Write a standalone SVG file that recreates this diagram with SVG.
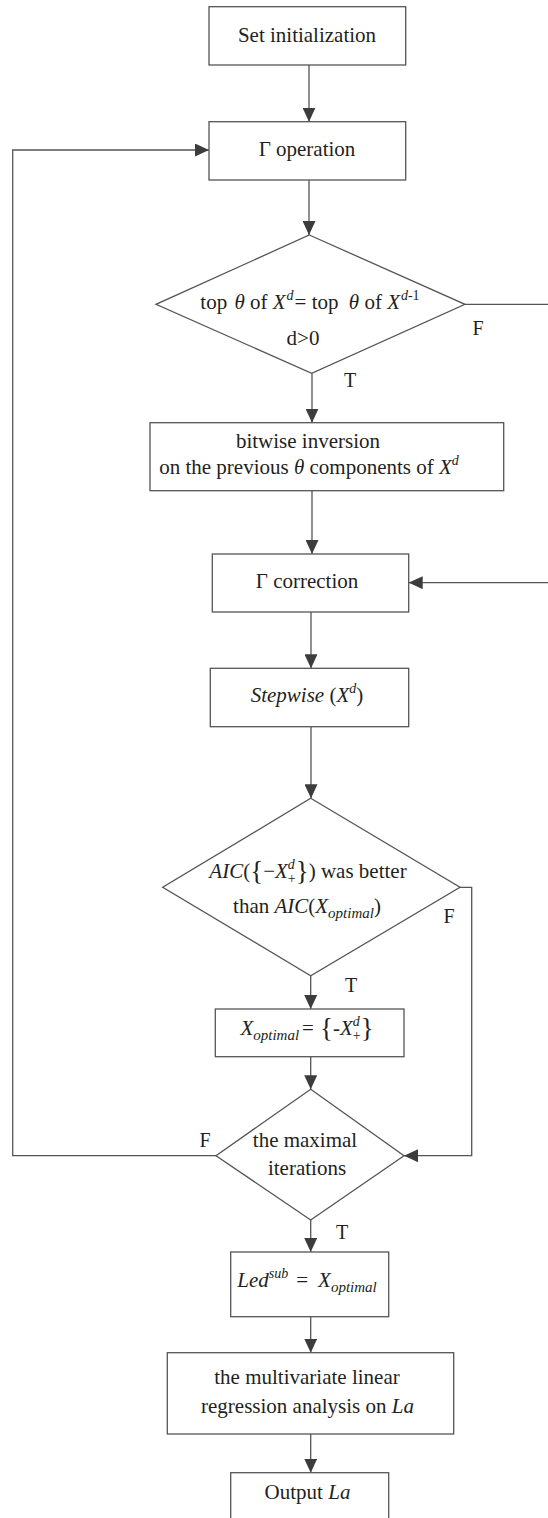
<svg xmlns="http://www.w3.org/2000/svg" width="548" height="1518" viewBox="0 0 548 1518">
<defs>
<style>
.box{fill:#fff;stroke:#555;stroke-width:1.3}
.ln{fill:none;stroke:#555;stroke-width:1.3}
.t{font-family:"Liberation Serif","Times New Roman",serif;font-size:21px;fill:#231f20}
.lbl{font-family:"Liberation Serif","Times New Roman",serif;font-size:20px;fill:#231f20}
.i{font-style:italic}
.s{font-size:14px}
.sb{font-size:15px}
.br{font-size:27px}
</style>
<marker id="ah" markerUnits="userSpaceOnUse" markerWidth="14" markerHeight="13" refX="14" refY="6.5" orient="auto">
<path d="M0,0 L14,6.5 L0,13 Z" fill="#3c3c3c"/>
</marker>
</defs>
<rect width="548" height="1518" fill="#fff"/>
<g id="connectors">
<path class="ln" d="M309,65 V121.7" marker-end="url(#ah)"/>
<path class="ln" d="M309,180 V235" marker-end="url(#ah)"/>
<path class="ln" d="M312,373.3 V422.7" marker-end="url(#ah)"/>
<path class="ln" d="M465,304.3 H556 V582.7 H408.7" marker-end="url(#ah)"/>
<path class="ln" d="M312,490.7 V554" marker-end="url(#ah)"/>
<path class="ln" d="M311,612 V668.3" marker-end="url(#ah)"/>
<path class="ln" d="M311,726.7 V798.3" marker-end="url(#ah)"/>
<path class="ln" d="M310.7,975.7 V1009" marker-end="url(#ah)"/>
<path class="ln" d="M460,887.3 H471.7 V1155.7 H404" marker-end="url(#ah)"/>
<path class="ln" d="M310.7,1056.7 V1089.3" marker-end="url(#ah)"/>
<path class="ln" d="M216,1155.7 H12.7 V150 H209" marker-end="url(#ah)"/>
<path class="ln" d="M310.7,1220 V1252" marker-end="url(#ah)"/>
<path class="ln" d="M310.7,1316.7 V1352.7" marker-end="url(#ah)"/>
<path class="ln" d="M310.7,1434 V1472.7" marker-end="url(#ah)"/>
<text class="lbl" x="478" y="335" text-anchor="middle">F</text>
<text class="lbl" x="350" y="387" text-anchor="middle">T</text>
<text class="lbl" x="449" y="923" text-anchor="middle">F</text>
<text class="lbl" x="351" y="992" text-anchor="middle">T</text>
<text class="lbl" x="205" y="1147" text-anchor="middle">F</text>
<text class="lbl" x="342" y="1239" text-anchor="middle">T</text>
</g>
<g id="n1">
<rect class="box" x="209" y="6.7" width="196.7" height="58.3"/>
<text class="t" x="307" y="41.5" text-anchor="middle">Set initialization</text>
</g>
<g id="n2">
<rect class="box" x="209" y="121.7" width="196.7" height="58.3"/>
<text class="t" x="307" y="155.5" text-anchor="middle">Γ operation</text>
</g>
<g id="n3">
<polygon class="box" points="309.3,235 465,304.3 311.7,373.3 156,304.3"/>
<text class="t" x="310" y="309" text-anchor="middle">top <tspan class="i" dx="2">θ</tspan> of <tspan class="i">X</tspan><tspan class="i s" dy="-9" dx="1">d</tspan><tspan dy="9" dx="1">= top </tspan><tspan class="i" dx="5">θ</tspan> of <tspan class="i">X</tspan><tspan class="s" dy="-9" dx="1"><tspan class="i">d</tspan>-1</tspan></text>
<text class="t" x="303" y="345" text-anchor="middle">d&gt;0</text>
</g>
<g id="n4">
<rect class="box" x="150" y="422.7" width="353.7" height="68"/>
<text class="t" x="308" y="448" text-anchor="middle">bitwise inversion</text>
<text class="t" x="309" y="474" text-anchor="middle">on the previous <tspan class="i">θ</tspan> components of <tspan class="i">X</tspan><tspan class="i s" dy="-9">d</tspan></text>
</g>
<g id="n5">
<rect class="box" x="212.3" y="554" width="196.4" height="58"/>
<text class="t" x="307" y="588" text-anchor="middle">Γ correction</text>
</g>
<g id="n6">
<rect class="box" x="210.3" y="668.3" width="198.4" height="58.4"/>
<text class="t" x="307" y="702" text-anchor="middle"><tspan class="i">Stepwise</tspan> (<tspan class="i">X</tspan><tspan class="i s" dy="-9">d</tspan><tspan dy="9">)</tspan></text>
</g>
<g id="n7">
<polygon class="box" points="310.7,798.3 460,887.3 310.7,975.7 162.7,887.3"/>
<text class="t" x="308" y="878" text-anchor="middle"><tspan class="i">AIC</tspan>(<tspan class="br" dy="2">{</tspan><tspan dy="-2">−</tspan><tspan class="i">X</tspan><tspan class="i s" dy="-9">d</tspan><tspan class="s" dx="-7" dy="14">+</tspan><tspan class="br" dy="-3">}</tspan><tspan dy="-2">) was better</tspan></text>
<text class="t" x="307" y="913" text-anchor="middle">than <tspan class="i">AIC</tspan>(<tspan class="i">X</tspan><tspan class="i sb" dy="5">optimal</tspan><tspan dy="-5">)</tspan></text>
</g>
<g id="n8">
<rect class="box" x="215.3" y="1009" width="188.7" height="47.7"/>
<text class="t" x="307" y="1035" text-anchor="middle"><tspan class="i">X</tspan><tspan class="i sb" dy="5">optimal</tspan><tspan dy="-5" dx="3">=</tspan><tspan class="br" dy="2" dx="6">{</tspan><tspan dy="-2">-</tspan><tspan class="i">X</tspan><tspan class="i s" dy="-9">d</tspan><tspan class="s" dx="-7" dy="14">+</tspan><tspan class="br" dy="-3">}</tspan></text>
</g>
<g id="n9">
<polygon class="box" points="310.7,1089.3 404,1155.7 310.7,1220 216,1155.7"/>
<text class="t" x="305" y="1147" text-anchor="middle">the maximal</text>
<text class="t" x="307" y="1175" text-anchor="middle">iterations</text>
</g>
<g id="n10">
<rect class="box" x="230.7" y="1252" width="158" height="64.7"/>
<text class="t" x="307" y="1287" text-anchor="middle"><tspan class="i">Led</tspan><tspan class="i s" dy="-9">sub</tspan><tspan dy="9" dx="8">=</tspan><tspan class="i" dx="10">X</tspan><tspan class="i sb" dy="5">optimal</tspan></text>
</g>
<g id="n11">
<rect class="box" x="167.3" y="1352.7" width="286.4" height="81.3"/>
<text class="t" x="307" y="1384" text-anchor="middle">the multivariate linear</text>
<text class="t" x="307.5" y="1412.7" text-anchor="middle">regression analysis on <tspan class="i">La</tspan></text>
</g>
<g id="n12">
<rect class="box" x="230.7" y="1472.7" width="158" height="58.3"/>
<text class="t" x="307.5" y="1499.3" text-anchor="middle">Output <tspan class="i">La</tspan></text>
</g>
</svg>
